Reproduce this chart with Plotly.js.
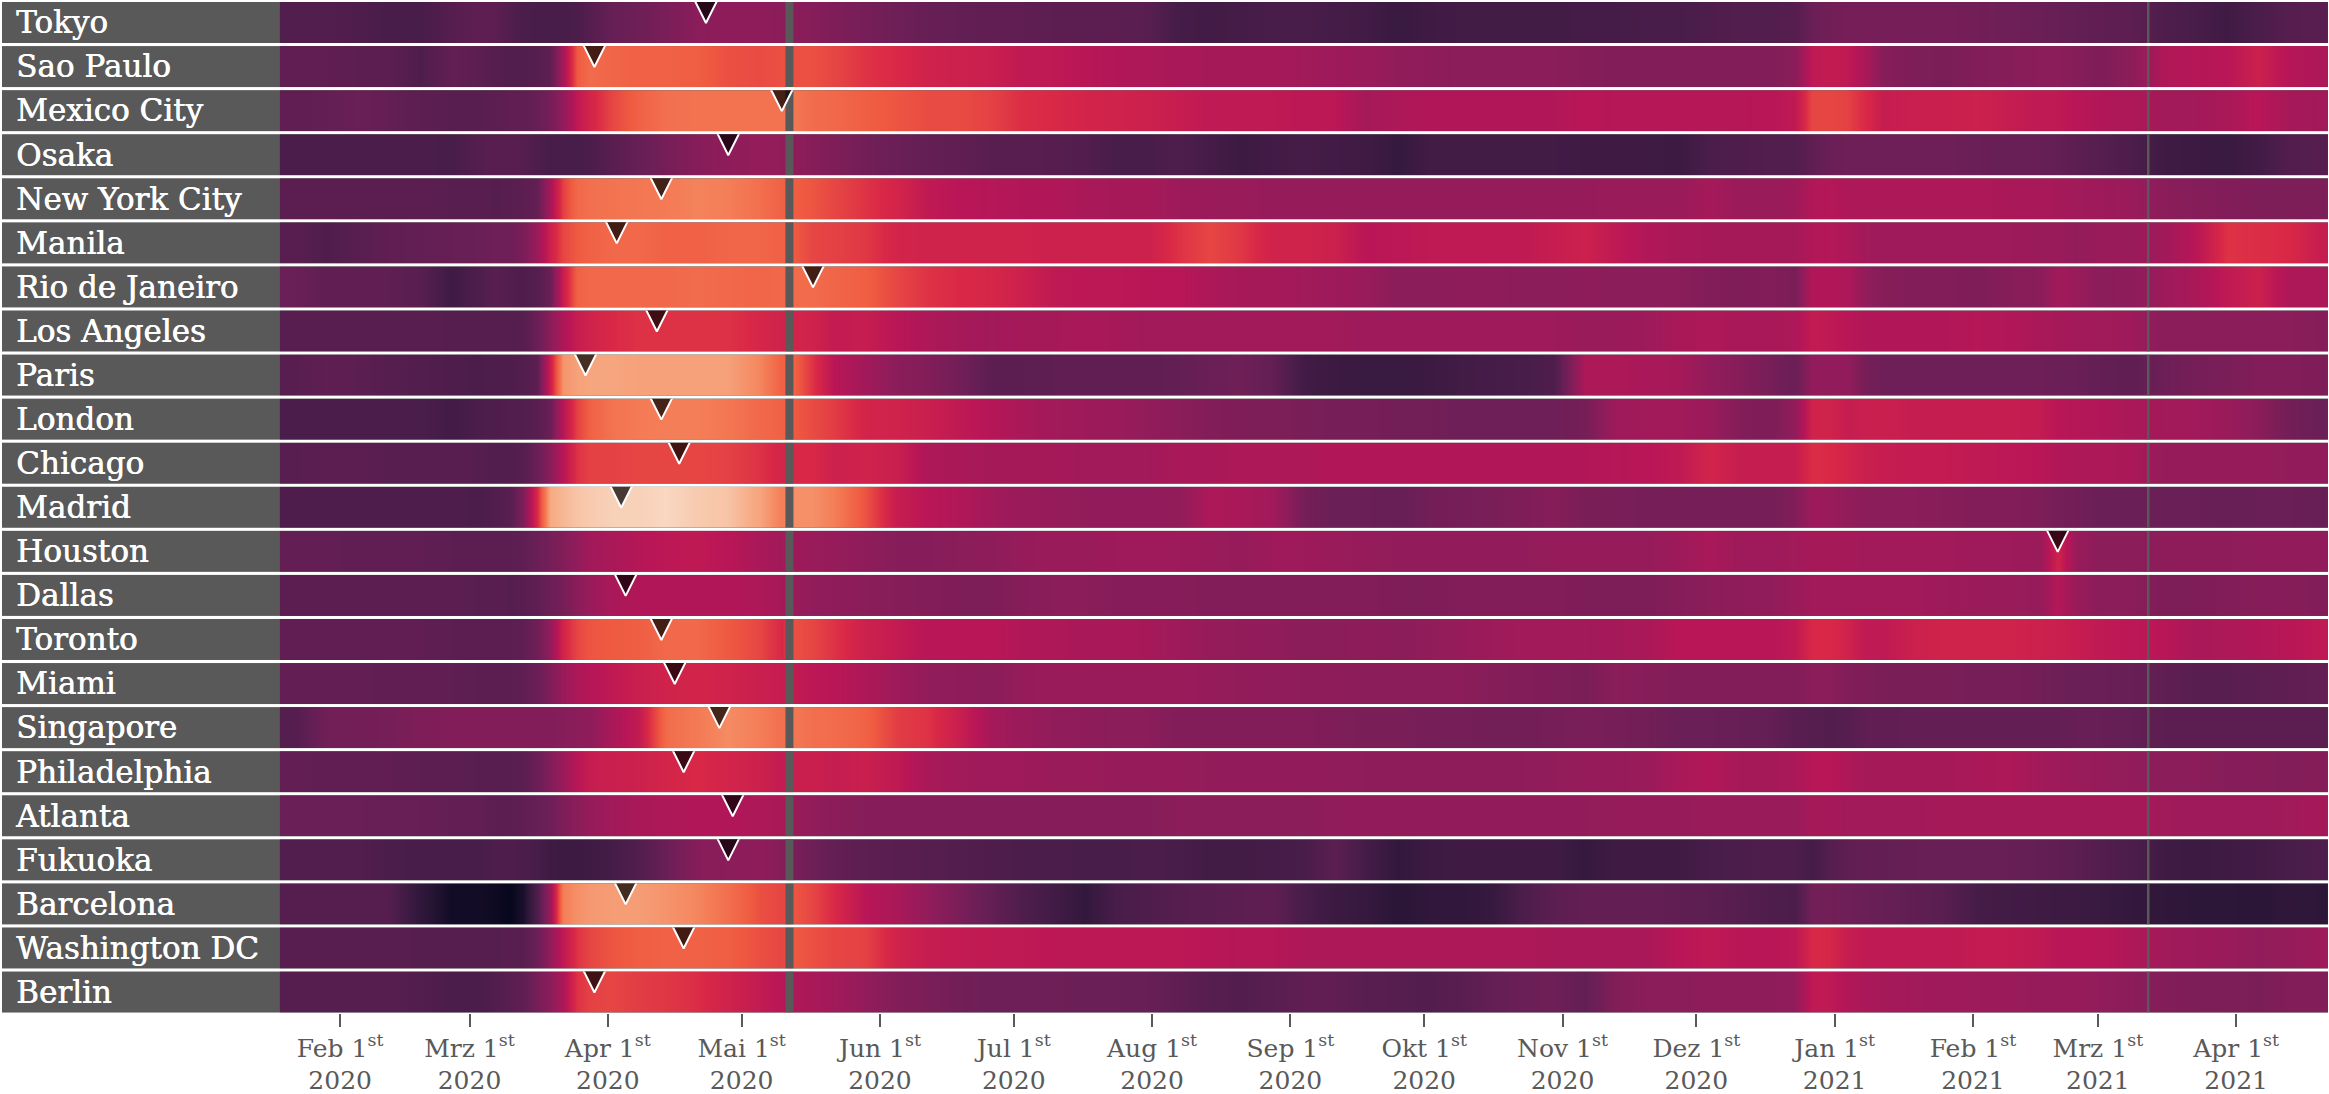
<!DOCTYPE html>
<html>
<head>
<meta charset="utf-8">
<script src="https://cdn.plot.ly/plotly-3.0.1.min.js"></script>
<style>html,body{margin:0;padding:0;background:#fff}</style>
</head>
<body>
<div id="chart" style="width:2329px;height:1094px"></div>
<script>
const dates = ["2020-01-22","2020-01-29","2020-02-05","2020-02-12","2020-02-19","2020-02-26","2020-03-03",
"2020-03-07","2020-03-10","2020-03-13","2020-03-16","2020-03-19","2020-03-22","2020-03-25","2020-03-28",
"2020-04-02","2020-04-08","2020-04-14","2020-04-21","2020-04-28","2020-05-05",
"2020-05-10","2020-05-13","2020-05-17","2020-05-22","2020-05-29",
"2020-06-05","2020-06-12","2020-06-19","2020-06-26",
"2020-07-03","2020-07-10","2020-07-17","2020-07-24","2020-07-31",
"2020-08-07","2020-08-14","2020-08-21","2020-08-28",
"2020-09-04","2020-09-11","2020-09-18","2020-09-25",
"2020-10-02","2020-10-09","2020-10-16","2020-10-23","2020-10-30",
"2020-11-06","2020-11-13","2020-11-20","2020-11-27",
"2020-12-04","2020-12-11","2020-12-18","2020-12-23","2020-12-27","2020-12-31",
"2021-01-04","2021-01-08","2021-01-12","2021-01-19","2021-01-26",
"2021-02-02","2021-02-09","2021-02-16","2021-02-20","2021-02-24",
"2021-03-02","2021-03-09","2021-03-16","2021-03-23","2021-03-30",
"2021-04-06","2021-04-13","2021-04-20"];

const tokyo = [23,23,22,20,20,24,27, 26,23,21,20,20,20,21,24, 29,31,34,38,39,39, 38,38,37,35,33, 31,29,28,27, 27,26,26,26,25, 19,18,19,20, 20,19,18,15, 17,18,18,18,18, 19,19,20,20, 22,23,23,24,30,32, 33,33,33,33,33, 32,31,30,29,28, 27,26,22,20,17, 21,24,25];
const saoPaulo = [27,27,26,26,22,28,26, 24,23,23,24,27,45,70,75, 73,72,72,71,68,67, 68,68,68,66,62, 60,57,56,55, 52,52,50,48,47, 46,45,45,45, 44,43,42,40, 39,38,38,38,38, 37,36,36,36, 36,36,36,38,52,53, 52,46,37,35,34, 36,37,38,38,37, 35,39,48,49,50, 56,49,47];
const mexicoCity = [27,28,30,28,26,25,25, 26,27,27,29,33,40,52,58, 66,72,76,77,77,77, 77,78,75,74,71, 69,67,67,65, 61,60,58,57,56, 54,52,52,52, 51,51,45,47, 48,48,48,48,48, 50,49,49,49, 49,49,50,52,66,66, 65,60,54,55,55, 56,54,52,52,50, 48,47,44,44,46, 50,45,44];
const osaka = [21,21,21,21,21,20,24, 25,25,24,22,20,20,20,21, 25,29,33,37,39,41, 40,39,37,35,32, 30,28,27,25, 25,24,23,20,20, 22,19,16,18, 19,18,17,14, 18,18,18,18,18, 17,17,17,16, 21,22,23,23,27,30, 31,31,31,31,31, 30,29,29,28,26, 24,21,17,16,15, 18,23,24];
const newYorkCity = [26,26,26,26,26,25,25, 24,25,26,28,45,65,74,76, 77,78,79,81,80,76, 72,71,69,66,62, 58,52,50,49, 48,48,46,45,45, 43,42,42,41, 41,41,41,41, 41,41,41,41,41, 41,42,42,42, 45,42,42,43,48,49, 47,47,47,47,47, 47,46,46,45,44, 43,42,38,37,36, 35,35,35];
const manila = [25,22,25,27,28,29,30, 31,31,34,42,56,66,70,72, 74,74,72,72,73,73, 72,70,66,65,63, 58,57,57,57, 57,56,56,56,56, 62,66,63,57, 57,56,50,51, 52,52,52,52,54, 56,52,48,46, 45,45,45,45,48,49, 47,44,43,43,43, 43,43,42,42,40, 42,42,44,50,62, 61,60,54];
const rioDeJaneiro = [30,27,27,27,25,17,22, 25,23,22,24,30,55,72,74, 74,74,74,75,74,73, 74,75,75,73,71, 66,62,60,59, 56,52,51,51,50, 50,47,45,45, 44,43,42,38, 38,39,39,38,38, 39,38,38,38, 36,35,36,34,48,48, 47,40,37,36,36, 35,37,38,44,42, 38,39,43,46,52, 56,47,47];
const losAngeles = [25,25,25,25,25,24,24, 24,24,24,30,38,47,54,57, 60,62,62,62,62,59, 57,58,57,53,54, 50,47,45,44, 45,45,46,45,44, 44,44,44,44, 44,44,43,43, 43,43,43,43,43, 42,42,43,46, 47,46,46,47,53,52, 50,48,48,48,48, 49,48,46,45,44, 44,43,38,38,38, 38,38,37];
const paris = [25,27,26,24,23,22,21, 22,22,23,26,55,85,88,89, 89,88,88,88,88,82, 72,72,62,50,44, 38,36,32,26, 26,27,27,27,27, 28,30,31,28, 18,16,15,15, 16,18,19,20,22, 47,47,46,45, 40,37,33,30,40,40, 40,33,31,31,31, 31,31,31,30,30, 28,27,31,33,34, 36,36,35];
const london = [21,21,21,21,21,18,21, 22,23,23,25,30,50,65,72, 77,79,80,80,78,74, 72,70,67,64,58, 57,55,52,49, 46,44,43,42,40, 38,36,35,35, 34,33,33,32, 32,31,31,31,31, 33,43,44,44, 42,36,35,40,57,57, 54,55,55,54,54, 54,54,53,50,49, 48,46,44,44,42, 38,32,30];
const chicago = [25,26,26,25,25,25,24, 23,23,24,30,38,50,62,65, 65,66,66,66,65,62, 58,60,60,56,57, 55,47,46,45, 45,45,44,44,44, 46,46,47,47, 47,48,48,48, 48,48,48,48,48, 48,49,50,52, 58,54,54,54,61,60, 58,55,54,53,53, 52,51,50,48,47, 47,46,41,41,41, 41,40,40];
const madrid = [22,22,22,22,22,22,21, 23,25,35,60,90,92,94,95, 96,96,97,95,94,89, 80,84,84,80,68, 54,50,48,44, 42,41,40,40,40, 40,47,46,44, 33,30,30,29, 32,33,34,35,37, 34,34,33,33, 33,33,33,36,43,42, 40,38,38,38,37, 36,36,35,33,32, 30,30,30,30,29, 30,30,29];
const houston = [28,28,27,27,27,26,26, 26,26,27,30,33,36,40,44, 46,49,51,52,50,46, 44,43,42,41,39, 37,37,38,39, 41,42,42,43,43, 43,42,41,43, 43,42,41,40, 40,40,40,40,41, 41,41,41,43, 46,43,43,44,45,45, 45,44,44,44,44, 43,43,42,57,42, 38,38,39,39,39, 40,40,40];
const dallas = [26,26,26,26,26,26,25, 25,24,25,27,30,33,38,42, 46,48,48,48,48,47, 45,42,40,39,38, 37,36,35,35, 37,38,38,37,37, 37,36,36,36, 36,36,36,35, 35,36,36,36,36, 35,35,35,37, 38,39,40,42,44,44, 44,44,44,44,43, 42,42,41,49,42, 38,38,35,35,36, 37,37,36];
const toronto = [27,27,27,27,27,26,26, 26,26,27,31,40,58,66,69, 70,71,74,74,70,66, 60,68,66,62,56, 53,50,50,50, 48,47,46,46,45, 43,41,40,40, 38,38,39,38, 40,41,43,44,44, 44,45,46,50, 50,50,50,52,60,60, 57,52,52,56,57, 57,57,56,55,54, 52,51,50,46,47, 48,50,52];
const miami = [28,28,28,27,27,27,26, 26,26,27,30,35,42,47,49, 52,55,57,58,57,55, 54,53,51,50,47, 43,40,39,38, 41,42,42,42,42, 42,41,40,40, 39,39,38,38, 38,38,37,36,35, 34,38,37,36, 36,36,36,36,38,38, 36,35,34,34,34, 33,33,32,31,30, 30,29,27,25,25, 26,27,28];
const singapore = [24,32,32,33,35,36,36, 36,36,36,36,36,37,38,39, 46,53,75,79,83,80, 76,78,76,75,72, 64,62,55,45, 42,40,39,38,38, 36,36,36,36, 36,35,34,34, 33,33,32,32,33, 34,33,32,30, 30,29,28,25,24,23, 24,27,27,28,28, 28,28,28,28,29, 29,28,26,26,26, 26,26,26];
const philadelphia = [28,27,27,27,26,26,25, 25,25,26,30,36,42,50,54, 55,56,58,60,58,56, 53,55,55,54,55, 52,46,44,43, 43,42,42,41,41, 41,40,40,40, 40,40,39,39, 39,39,39,39,40, 41,41,42,46, 48,45,45,46,50,50, 47,45,45,45,45, 46,47,44,43,42, 41,40,38,38,37, 37,36,37];
const atlanta = [30,30,30,29,29,28,28, 26,26,27,29,31,35,38,41, 44,46,47,48,48,47, 46,42,40,38,37, 37,37,37,37, 37,37,37,37,37, 38,38,38,38, 38,40,40,40, 40,40,40,40,40, 40,41,41,41, 42,42,42,42,45,45, 44,44,44,44,45, 45,45,45,45,45, 45,45,44,43,43, 43,44,45];
const fukuoka = [23,23,23,21,20,20,20, 22,22,21,20,17,16,16,17, 19,23,30,37,38,39, 37,34,31,28,26, 25,24,23,22, 21,21,20,20,21, 20,18,18,19, 20,26,19,13, 16,17,17,17,17, 14,17,17,17, 20,21,22,22,19,24, 27,28,28,29,29, 29,29,28,27,26, 23,21,17,16,17, 18,20,22];
const barcelona = [24,24,24,24,12,4,4, 3,1,6,22,42,80,84,86, 87,87,85,82,76,68, 66,69,66,60,50, 46,40,34,28, 22,18,13,20,22, 24,25,26,27, 20,16,14,10, 12,12,14,21,26, 28,28,28,27, 26,24,22,21,32,32, 31,30,29,27,25, 19,18,17,16,16, 15,13,12,11,11, 10,12,11];
const washingtonDC = [25,25,25,25,24,24,24, 24,25,25,30,40,52,62,66, 69,71,72,72,71,68, 66,70,68,66,65, 57,54,53,52, 52,51,51,51,51, 51,50,49,49, 47,47,47,47, 47,47,47,47,46, 46,46,46,50, 52,50,50,51,60,59, 54,52,52,52,52, 53,53,52,50,50, 50,47,44,43,42, 40,41,43];
const berlin = [24,24,24,24,23,21,21, 23,25,27,33,38,47,62,65, 66,64,63,61,57,53, 50,47,46,44,40, 36,34,32,31, 31,31,30,30,29, 27,24,23,25, 27,27,25,24, 23,25,28,30,31, 28,36,38,38, 39,39,39,40,52,52, 48,46,45,44,43, 43,42,41,41,41, 40,38,36,35,35, 34,36,36];

const cities = ["Tokyo","Sao Paulo","Mexico City","Osaka","New York City","Manila","Rio de Janeiro","Los Angeles","Paris","London","Chicago","Madrid","Houston","Dallas","Toronto","Miami","Singapore","Philadelphia","Atlanta","Fukuoka","Barcelona","Washington DC","Berlin"];
const cityValues = [tokyo,saoPaulo,mexicoCity,osaka,newYorkCity,manila,rioDeJaneiro,losAngeles,paris,london,chicago,madrid,houston,dallas,toronto,miami,singapore,philadelphia,atlanta,fukuoka,barcelona,washingtonDC,berlin];
const markerDates = ["2020-04-23","2020-03-29","2020-05-10","2020-04-28","2020-04-13","2020-04-03","2020-05-17","2020-04-12","2020-03-27","2020-04-13","2020-04-17","2020-04-04","2021-02-20","2020-04-05","2020-04-13","2020-04-16","2020-04-26","2020-04-18","2020-04-29","2020-04-28","2020-04-05","2020-04-18","2020-03-29"];
const gapDates = ["2020-05-11 17:00","2021-03-12 07:00"];
const gapWidths = [8,2.5];
const tickDates = ["2020-02-01","2020-03-01","2020-04-01","2020-05-01","2020-06-01","2020-07-01","2020-08-01","2020-09-01","2020-10-01","2020-11-01","2020-12-01","2021-01-01","2021-02-01","2021-03-01","2021-04-01"];
const tickLabels = ["Feb","Mrz","Apr","Mai","Jun","Jul","Aug","Sep","Okt","Nov","Dez","Jan","Feb","Mrz","Apr"];
const rocket = [[0,"#03051A"],[0.1,"#2A1637"],[0.2,"#481D49"],[0.3,"#6A1F56"],[0.4,"#921C5B"],[0.5,"#B91657"],[0.6,"#D92847"],[0.7,"#EF5A41"],[0.8,"#F47E57"],[0.9,"#F6AA82"],[1,"#FAEBDD"]];
const GRAY = "#595959";
const FONT = "'DejaVu Serif', serif";
const PLOT_H = 1014, ROW_TOP = 2, ROW_PITCH = 44.07, ROW_H = 41;

const traces = [];
const layout = {
  width:2329, height:1094,
  margin:{l:2,r:1,t:0,b:80,pad:0},
  paper_bgcolor:"#fff", plot_bgcolor:GRAY,
  showlegend:false,
  font:{family:FONT,color:GRAY},
  xaxis:{type:"date", range:["2019-11-17 05:00","2021-04-21 14:00"], anchor:"y"+cities.length,
    tickmode:"array", tickvals:tickDates,
    ticktext:tickLabels.map((m,i)=>m+" 1<sup>st</sup><br>"+tickDates[i].slice(0,4)),
    ticks:"outside", ticklen:13, tickwidth:2, tickcolor:GRAY, tickangle:0,
    tickfont:{size:25,color:GRAY,family:FONT}, showgrid:false, zeroline:false, showline:false, automargin:false}
};
cities.forEach((city,k)=>{
  const ya = k===0 ? "y" : "y"+(k+1);
  const key = k===0 ? "yaxis" : "yaxis"+(k+1);
  const top = ROW_TOP + k*ROW_PITCH;
  layout[key] = {
    domain:[1-(top+ROW_H)/PLOT_H, 1-top/PLOT_H], anchor:"x", range:[0,1],
    tickmode:"array", tickvals:[0.5], ticktext:[city],
    ticklabelposition:"inside", ticklabelstandoff:11, ticks:"",
    showgrid:false, zeroline:false, showline:false, automargin:false,
    tickfont:{size:31,color:"#fff",family:FONT,shadow:"0.6px 0 0 #fff"}
  };
  traces.push({type:"heatmap", x:dates, y:[0.25,0.75], z:[cityValues[k],cityValues[k]], xaxis:"x", yaxis:ya,
    zsmooth:"best", zmin:0, zmax:100, colorscale:rocket, showscale:false, hoverinfo:"skip"});
  gapDates.forEach((d,i)=>traces.push({type:"scatter", mode:"lines", x:[d,d], y:[0,1], xaxis:"x", yaxis:ya,
    line:{color:GRAY,width:gapWidths[i]}, hoverinfo:"skip", showlegend:false}));
  traces.push({type:"scatter", mode:"markers", x:[markerDates[k]], y:[1], xaxis:"x", yaxis:ya, name:city,
    marker:{symbol:"diamond-tall",size:30,color:"rgba(0,0,0,0.72)",line:{color:"#fff",width:2}},
    showlegend:false, hoverinfo:"name", cliponaxis:true});
});
Plotly.newPlot("chart",traces,layout,{displayModeBar:false,staticPlot:true});
</script>
</body>
</html>
